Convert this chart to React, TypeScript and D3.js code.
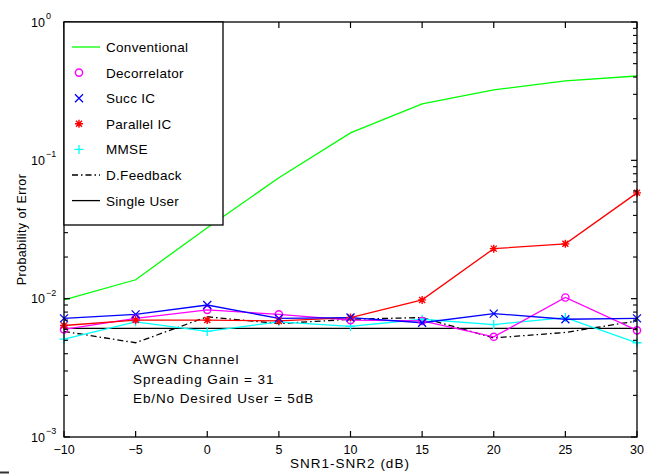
import React from "react";
import * as d3 from "d3";

const snr = [-10, -5, 0, 5, 10, 15, 20, 25, 30];
const conventional = [0.0098, 0.0137, 0.0326, 0.0748, 0.158, 0.256, 0.323, 0.375, 0.407];
const decorrelator = [0.0060, 0.0072, 0.0083, 0.0077, 0.0070, 0.0069, 0.0053, 0.0102, 0.0059];
const succIC = [0.0072, 0.0077, 0.0090, 0.0072, 0.0073, 0.0067, 0.0078, 0.0071, 0.0072];
const parallelIC = [0.0064, 0.0070, 0.0070, 0.0069, 0.0073, 0.0098, 0.0230, 0.0249, 0.0582];
const mmse = [0.0051, 0.0068, 0.0058, 0.0068, 0.0063, 0.0071, 0.0065, 0.0073, 0.0048];
const dFeedback = [0.0058, 0.0048, 0.0074, 0.0066, 0.0071, 0.0073, 0.0052, 0.0057, 0.0069];
const singleUser = [0.0061, 0.0061, 0.0061, 0.0061, 0.0061, 0.0061, 0.0061, 0.0061, 0.0061];

const xTicks = [-10, -5, 0, 5, 10, 15, 20, 25, 30];
const yExponents = [0, -1, -2, -3];
const legendLabels = ["Conventional", "Decorrelator", "Succ IC", "Parallel IC", "MMSE", "D.Feedback", "Single User"];
const annotations = ["AWGN Channel", "Spreading Gain = 31", "Eb/No Desired User = 5dB"];

const FONT = "'Liberation Sans', Arial, Helvetica, sans-serif";

type MarkerKind = "o" | "x" | "*" | "+" | "none";

function Marker({ kind, cx, cy, color }: { kind: MarkerKind; cx: number; cy: number; color: string }) {
  const s = 4;
  if (kind === "o") return <circle cx={cx} cy={cy} r={3.6} fill="none" stroke={color} strokeWidth={1.4} />;
  if (kind === "x")
    return (
      <path d={`M${cx - s},${cy - s}L${cx + s},${cy + s}M${cx - s},${cy + s}L${cx + s},${cy - s}`} stroke={color} strokeWidth={1.3} />
    );
  if (kind === "+")
    return <path d={`M${cx - s - 0.5},${cy}L${cx + s + 0.5},${cy}M${cx},${cy - s - 0.5}L${cx},${cy + s + 0.5}`} stroke={color} strokeWidth={1.3} />;
  if (kind === "*")
    return (
      <path
        d={`M${cx - s},${cy}L${cx + s},${cy}M${cx},${cy - s}L${cx},${cy + s}M${cx - 3},${cy - 3}L${cx + 3},${cy + 3}M${cx - 3},${cy + 3}L${cx + 3},${cy - 3}`}
        stroke={color}
        strokeWidth={1.4}
      />
    );
  return null;
}

export default function App() {
  const W = 655;
  const H = 474;
  const left = 64, right = 637, top = 22, bottom = 437;
  const x = d3.scaleLinear().domain([-10, 30]).range([left, right]);
  const y = d3.scaleLog().domain([1e-3, 1]).range([bottom, top]);

  const line = d3
    .line<number>()
    .x((_, i) => x(snr[i]))
    .y((v) => y(v));

  const series: { data: number[]; color: string; marker: MarkerKind; dash?: string }[] = [
    { data: conventional, color: "#00ff00", marker: "none" },
    { data: singleUser, color: "#000000", marker: "none" },
    { data: dFeedback, color: "#000000", marker: "none", dash: "6,3,1.5,3" },
    { data: mmse, color: "#00ffff", marker: "+" },
    { data: decorrelator, color: "#ff00ff", marker: "o" },
    { data: parallelIC, color: "#ff0000", marker: "*" },
    { data: succIC, color: "#0000ff", marker: "x" },
  ];

  const minorTicks: number[] = [];
  for (let e = -3; e < 0; e++) for (let k = 2; k <= 9; k++) minorTicks.push(k * Math.pow(10, e));

  const legendItems: { label: string; color: string; marker: MarkerKind; line: boolean; dash?: string }[] = [
    { label: legendLabels[0], color: "#00ff00", marker: "none", line: true },
    { label: legendLabels[1], color: "#ff00ff", marker: "o", line: false },
    { label: legendLabels[2], color: "#0000ff", marker: "x", line: false },
    { label: legendLabels[3], color: "#ff0000", marker: "*", line: false },
    { label: legendLabels[4], color: "#00ffff", marker: "+", line: false },
    { label: legendLabels[5], color: "#000000", marker: "none", line: true, dash: "6,3,1.5,3" },
    { label: legendLabels[6], color: "#000000", marker: "none", line: true },
  ];

  return (
    <div style={{ position: "absolute", left: 0, top: 0, width: W, height: H, background: "#fff" }}>
      <svg width={W} height={H} style={{ display: "block" }} fontFamily={FONT}>
        <rect x={0} y={0} width={W} height={H} fill="#fff" />
        {/* data lines */}
        {series.map((s, i) => (
          <path key={i} d={line(s.data) || ""} fill="none" stroke={s.color} strokeWidth={1.3} strokeDasharray={s.dash} />
        ))}
        {series.map((s, i) =>
          s.data.map((v, j) => <Marker key={`${i}-${j}`} kind={s.marker} cx={x(snr[j])} cy={y(v)} color={s.color} />)
        )}
        {/* frame */}
        <rect x={left} y={top} width={right - left} height={bottom - top} fill="none" stroke="#000" strokeWidth={1.3} />
        {/* x ticks */}
        {xTicks.map((t) => (
          <g key={t}>
            <line x1={x(t)} x2={x(t)} y1={bottom} y2={bottom - 6} stroke="#000" strokeWidth={1.2} />
            <line x1={x(t)} x2={x(t)} y1={top} y2={top + 6} stroke="#000" strokeWidth={1.2} />
            <text x={x(t)} y={454} textAnchor="middle" fontSize={12.5} fill="#000">
              {t < 0 ? "\u2212" + Math.abs(t) : String(t)}
            </text>
          </g>
        ))}
        {/* y ticks */}
        {yExponents.map((e) => (
          <g key={e}>
            <line x1={left} x2={left + 6} y1={y(Math.pow(10, e))} y2={y(Math.pow(10, e))} stroke="#000" strokeWidth={1.2} />
            <line x1={right} x2={right - 6} y1={y(Math.pow(10, e))} y2={y(Math.pow(10, e))} stroke="#000" strokeWidth={1.2} />
            <text x={45} y={y(Math.pow(10, e)) + 4.5} textAnchor="end" fontSize={12.5} fill="#000">
              10
            </text>
            <text x={46} y={y(Math.pow(10, e)) - 3} textAnchor="start" fontSize={9} fill="#000">
              {e < 0 ? "\u2212" + Math.abs(e) : String(e)}
            </text>
          </g>
        ))}
        {minorTicks.map((v, i) => (
          <g key={i}>
            <line x1={left} x2={left + 4} y1={y(v)} y2={y(v)} stroke="#000" strokeWidth={1.1} />
            <line x1={right} x2={right - 4} y1={y(v)} y2={y(v)} stroke="#000" strokeWidth={1.1} />
          </g>
        ))}
        {/* axis labels */}
        <text x={350} y={468} textAnchor="middle" fontSize={13.5} letterSpacing={1} fill="#000">
          SNR1-SNR2 (dB)
        </text>
        <text
          transform={`translate(26,${(top + bottom) / 2}) rotate(-90)`}
          textAnchor="middle"
          fontSize={12.5}
          letterSpacing={0.4}
          fill="#000"
        >
          Probability of Error
        </text>
        {/* annotations */}
        {annotations.map((a, i) => (
          <text key={i} x={133} y={364 + i * 19.5} fontSize={13.5} letterSpacing={0.9} fill="#000">
            {a}
          </text>
        ))}
        {/* legend */}
        <rect x={left} y={top} width={159} height={203} fill="#fff" stroke="#000" strokeWidth={1.3} />
        {legendItems.map((it, i) => {
          const cy = 47 + i * 25.6;
          return (
            <g key={i}>
              {it.line && <line x1={72} x2={100} y1={cy} y2={cy} stroke={it.color} strokeWidth={1.3} strokeDasharray={it.dash} />}
              {it.marker !== "none" && <Marker kind={it.marker} cx={79} cy={cy} color={it.color} />}
              <text x={106} y={cy + 5} fontSize={13.5} letterSpacing={0.3} fill="#000">
                {it.label}
              </text>
            </g>
          );
        })}
        <line x1={0} x2={9} y1={472.5} y2={472.5} stroke="#333" strokeWidth={2} />
      </svg>
    </div>
  );
}
